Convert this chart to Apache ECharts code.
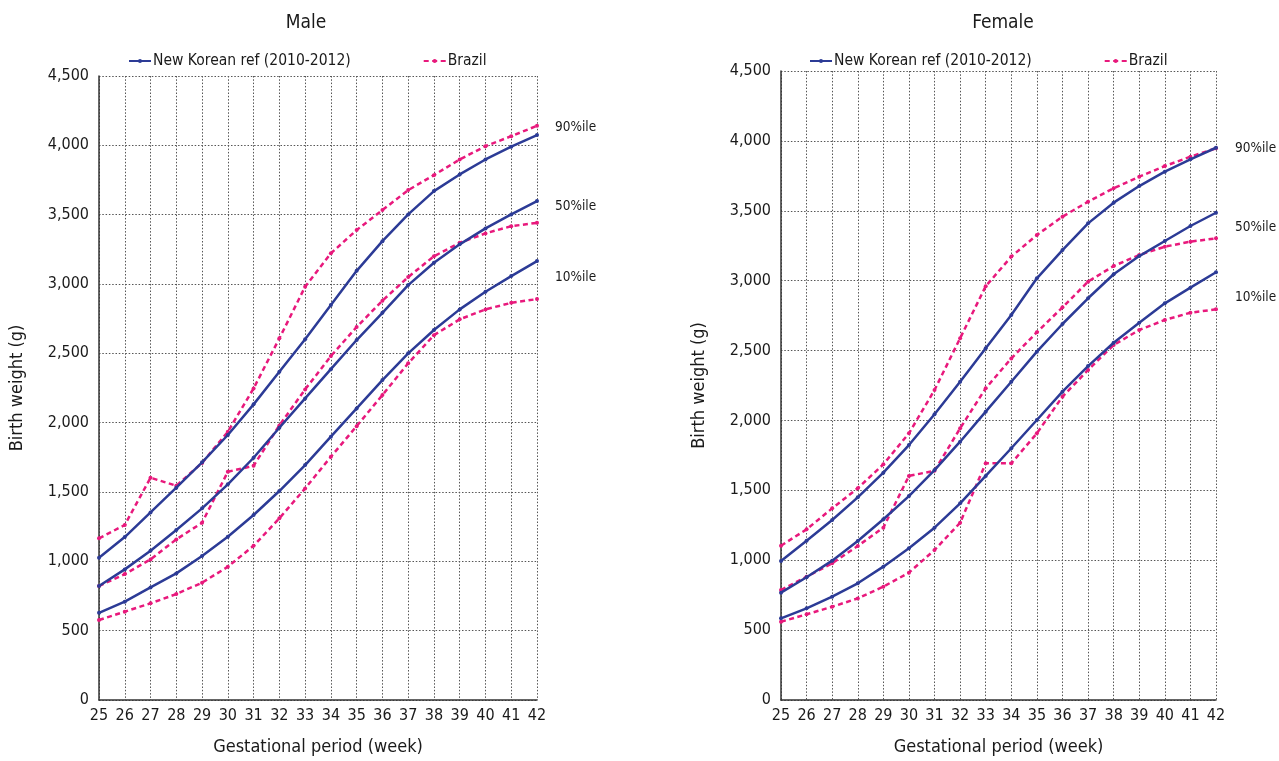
<!DOCTYPE html>
<html>
<head>
<meta charset="utf-8">
<script src="https://cdn.jsdelivr.net/npm/echarts@6/dist/echarts.min.js"></script>
<style>
html,body{margin:0;padding:0;background:#fff;}
#chart{width:1279px;height:761px;}
</style>
</head>
<body>
<div id="chart"></div>
<script>
const weeks = [25,26,27,28,29,30,31,32,33,34,35,36,37,38,39,40,41,42];
const yTicks = [0,500,1000,1500,2000,2500,3000,3500,4000,4500];

// Male
const maleKorean90 = [1026,1175,1353,1531,1714,1911,2132,2367,2601,2848,3095,3309,3502,3670,3790,3898,3990,4074];
const maleKorean50 = [822,942,1076,1226,1382,1555,1747,1963,2175,2386,2596,2792,2992,3153,3286,3401,3502,3598];
const maleKorean10 = [629,709,812,913,1038,1177,1334,1507,1694,1899,2103,2307,2500,2668,2817,2944,3057,3165];
const maleBrazil90 = [1166,1262,1603,1545,1710,1934,2247,2608,2980,3221,3389,3533,3677,3785,3898,3994,4066,4141];
const maleBrazil50 = [822,908,1014,1158,1278,1646,1689,1980,2240,2480,2690,2880,3050,3200,3297,3365,3417,3441];
const maleBrazil10 = [577,637,697,764,846,961,1112,1310,1526,1754,1975,2199,2428,2631,2745,2817,2864,2891];

// Female
const femaleKorean90 = [994,1140,1288,1450,1626,1824,2044,2277,2516,2754,3017,3219,3410,3558,3677,3780,3868,3951];
const femaleKorean50 = [768,878,997,1138,1293,1459,1645,1848,2063,2277,2492,2690,2874,3046,3176,3284,3391,3486];
const femaleKorean10 = [584,656,739,835,954,1085,1233,1407,1603,1801,2003,2206,2389,2556,2699,2838,2950,3060];
const femaleBrazil90 = [1104,1221,1371,1515,1686,1908,2218,2588,2960,3172,3327,3458,3565,3661,3744,3820,3887,3947];
const femaleBrazil50 = [787,882,978,1102,1233,1603,1640,1944,2230,2444,2631,2809,2993,3105,3184,3243,3279,3303];
const femaleBrazil10 = [560,613,667,727,811,911,1073,1268,1693,1693,1908,2170,2361,2540,2647,2719,2771,2795];

const percentileLabels = ['90%ile','50%ile','10%ile'];
const panelTitles = ['Male','Female'];
const legendNames = ['New Korean ref (2010-2012)','Brazil'];

const FONT = '"Liberation Sans Narrow","DejaVu Sans Condensed","Liberation Sans",sans-serif';
const BLUE = '#2c3b96';
const PINK = '#e8197c';
const TXT = '#1a1a1a';

function pairs(arr){ return weeks.map((w,i)=>[w,arr[i]]); }

function mkSeries(name, arr, idx, isBrazil){
  return {
    name: name,
    type: 'line',
    xAxisIndex: idx, yAxisIndex: idx,
    data: pairs(arr),
    symbol: 'circle',
    symbolSize: 4,
    showSymbol: true,
    lineStyle: {color: isBrazil?PINK:BLUE, width: 2.5, type: isBrazil?[5,3.5]:'solid'},
    itemStyle: {color: isBrazil?PINK:BLUE},
    emphasis: {disabled: true},
    animation: false,
    z: isBrazil?3:4
  };
}

const grids = [
  {left: 99, right: 742, top: 76, bottom: 61},
  {left: 781, right: 63, top: 71, bottom: 61}
];

function xAxis(idx){
  return {
    type: 'value', gridIndex: idx, min: 25, max: 42, interval: 1,
    name: 'Gestational period (week)', nameLocation: 'middle', nameGap: 38,
    nameTextStyle: {fontFamily: FONT, fontSize: 18, color: TXT},
    axisLine: {show: true, lineStyle: {color: '#333', width: 1.5}},
    axisTick: {show: false},
    axisLabel: {fontFamily: FONT, fontSize: 16, color: TXT, margin: 8},
    splitLine: {show: true, lineStyle: {color: '#555', type: [1.5,1.8], width: 1}}
  };
}
function yAxis(idx){
  return {
    type: 'value', gridIndex: idx, min: 0, max: 4500, interval: 500,
    name: 'Birth weight (g)', nameLocation: 'middle', nameGap: 73,
    nameTextStyle: {fontFamily: FONT, fontSize: 18, color: TXT},
    axisLine: {show: true, lineStyle: {color: '#333', width: 1.5}},
    axisTick: {show: false},
    axisLabel: {fontFamily: FONT, fontSize: 16, color: TXT, margin: 10,
      formatter: v => yTicks.includes(v) ? v.toLocaleString('en-US') : ''},
    splitLine: {show: true, lineStyle: {color: '#555', type: [1.5,1.8], width: 1}}
  };
}

const series = [
  mkSeries(legendNames[0], maleKorean90, 0, false),
  mkSeries(legendNames[0], maleKorean50, 0, false),
  mkSeries(legendNames[0], maleKorean10, 0, false),
  mkSeries(legendNames[1], maleBrazil90, 0, true),
  mkSeries(legendNames[1], maleBrazil50, 0, true),
  mkSeries(legendNames[1], maleBrazil10, 0, true),
  mkSeries(legendNames[0], femaleKorean90, 1, false),
  mkSeries(legendNames[0], femaleKorean50, 1, false),
  mkSeries(legendNames[0], femaleKorean10, 1, false),
  mkSeries(legendNames[1], femaleBrazil90, 1, true),
  mkSeries(legendNames[1], femaleBrazil50, 1, true),
  mkSeries(legendNames[1], femaleBrazil10, 1, true)
];

function legend(left){
  return {
    left: left, top: 48, itemWidth: 22, itemHeight: 5, itemGap: 72,
    selectedMode: false,
    textStyle: {fontFamily: FONT, fontSize: 15.5, color: TXT, padding: [0,0,0,-3]},
    data: legendNames.map(n => ({name: n}))
  };
}

const labelPos = [
  [{x:555,y:127},{x:555,y:206},{x:555,y:277}],
  [{x:1235,y:148},{x:1235,y:227},{x:1235,y:297}]
];
const graphics = [];
labelPos.forEach(panel => panel.forEach((p,i) => {
  graphics.push({type:'text', x:p.x, y:p.y, style:{text: percentileLabels[i], fontFamily: FONT, fontSize: 13.5, fill: TXT, verticalAlign:'middle'}});
}));

const chart = echarts.init(document.getElementById('chart'), null, {renderer: 'canvas'});
chart.setOption({
  backgroundColor: '#fff',
  animation: false,
  title: [
    {text: panelTitles[0], left: 301, top: 9, textAlign: 'center', textStyle: {fontFamily: FONT, fontSize: 19, fontWeight: 'normal', color: TXT}},
    {text: panelTitles[1], left: 998, top: 9, textAlign: 'center', textStyle: {fontFamily: FONT, fontSize: 19, fontWeight: 'normal', color: TXT}}
  ],
  legend: [legend(123), legend(804)],
  grid: grids,
  xAxis: [xAxis(0), xAxis(1)],
  yAxis: [yAxis(0), yAxis(1)],
  series: series,
  graphic: graphics
});
</script>
</body>
</html>
